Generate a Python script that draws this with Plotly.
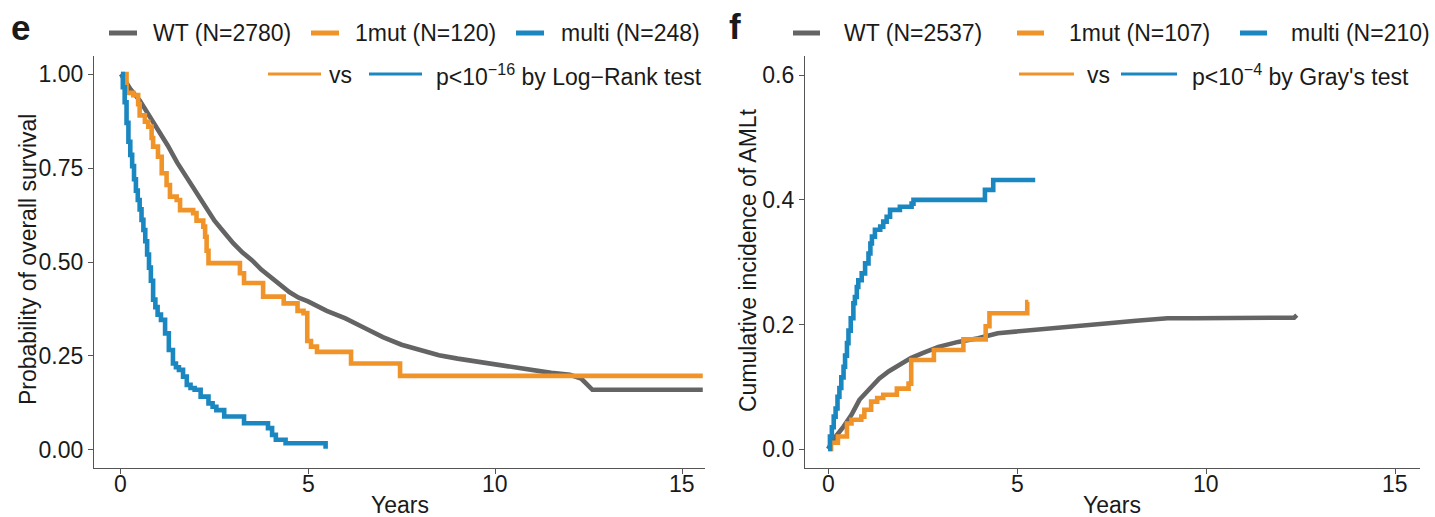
import plotly.graph_objects as go

W, H = 1435, 517

# ---------------- data ----------------
# Panel e: overall survival (Kaplan-Meier)
os_wt_years = [0, 0.1, 0.25, 0.5, 0.75, 1.0, 1.25, 1.5, 1.75, 2.0, 2.25, 2.5, 2.75, 3.0, 3.25,
               3.5, 3.75, 4.0, 4.25, 4.5, 4.75, 5.0, 5.5, 6.0, 6.5, 7.0, 7.5, 8.0, 8.5, 9.0,
               9.5, 10.0, 10.5, 11.0, 11.5, 12.0, 12.3, 12.45, 12.6, 15.55]
os_wt_surv = [1.0, 0.985, 0.96, 0.93, 0.89, 0.855, 0.81, 0.765, 0.725, 0.685, 0.645, 0.61, 0.58,
              0.55, 0.525, 0.505, 0.48, 0.46, 0.44, 0.42, 0.405, 0.395, 0.37, 0.35, 0.325, 0.30,
              0.28, 0.265, 0.252, 0.243, 0.235, 0.227, 0.22, 0.212, 0.205, 0.20, 0.19, 0.175,
              0.16, 0.16]

os_1mut_years = [0, 0.15, 0.33, 0.46, 0.5, 0.64, 0.73, 0.82, 0.86, 0.99, 1.09, 1.22, 1.31, 1.49,
                 1.58, 1.93, 2.02, 2.2, 2.25, 2.29, 2.34, 3.18, 3.29, 3.8, 4.35, 4.72, 4.88, 4.98,
                 5.08, 5.24, 6.15, 7.46, 15.55]
os_1mut_surv = [1.0, 0.95, 0.944, 0.92, 0.89, 0.873, 0.86, 0.83, 0.807, 0.78, 0.736, 0.705, 0.674,
                0.665, 0.638, 0.63, 0.61, 0.594, 0.567, 0.53, 0.497, 0.47, 0.444, 0.408, 0.39,
                0.37, 0.364, 0.29, 0.275, 0.261, 0.23, 0.197, 0.197]

os_multi_years = [0, 0.05, 0.1, 0.15, 0.2, 0.25, 0.3, 0.35, 0.4, 0.45, 0.5, 0.55, 0.6, 0.65, 0.7,
                  0.75, 0.8, 0.86, 0.92, 0.98, 1.07, 1.18, 1.28, 1.39, 1.47, 1.55, 1.66, 1.76,
                  1.86, 1.97, 2.13, 2.34, 2.45, 2.55, 2.76, 3.29, 3.93, 4.04, 4.14, 4.4, 5.45, 5.47]
os_multi_surv = [1.0, 0.965, 0.925, 0.87, 0.82, 0.785, 0.755, 0.72, 0.69, 0.665, 0.64, 0.612,
                 0.585, 0.555, 0.52, 0.485, 0.45, 0.40, 0.38, 0.36, 0.346, 0.31, 0.266, 0.23,
                 0.22, 0.213, 0.195, 0.173, 0.165, 0.16, 0.142, 0.124, 0.115, 0.106, 0.089,
                 0.071, 0.058, 0.04, 0.027, 0.018, 0.018, 0.003]

# Panel f: cumulative incidence of AMLt
ci_wt_years = [0, 0.1, 0.2, 0.41, 0.62, 0.83, 1.09, 1.35, 1.61, 1.87, 2.19, 2.5, 2.92, 3.44,
               3.97, 4.49, 5.01, 5.74, 6.58, 7.42, 8.15, 8.98, 9.7, 12.33, 12.4]
ci_wt_inc = [0, 0.012, 0.02, 0.036, 0.055, 0.079, 0.097, 0.113, 0.125, 0.135, 0.146, 0.154,
             0.164, 0.172, 0.178, 0.186, 0.189, 0.194, 0.197, 0.202, 0.206, 0.21, 0.21, 0.211,
             0.215]

ci_1mut_years = [0, 0.08, 0.26, 0.5, 0.62, 0.88, 0.96, 1.14, 1.3, 1.46, 1.82, 2.13, 2.2, 2.8,
                 3.58, 4.17, 4.27, 5.27, 5.3]
ci_1mut_inc = [0, 0.01, 0.02, 0.041, 0.047, 0.052, 0.063, 0.076, 0.082, 0.087, 0.097, 0.105,
               0.143, 0.159, 0.176, 0.197, 0.218, 0.236, 0.236]

ci_multi_years = [0, 0.05, 0.1, 0.15, 0.2, 0.25, 0.3, 0.35, 0.41, 0.45, 0.5, 0.54, 0.6, 0.67,
                  0.71, 0.76, 0.8, 0.89, 0.98, 1.07, 1.12, 1.16, 1.24, 1.38, 1.46, 1.55, 1.64,
                  1.9, 2.21, 2.26, 4.15, 4.37, 5.48]
ci_multi_inc = [0, 0.02, 0.035, 0.052, 0.065, 0.084, 0.098, 0.115, 0.132, 0.15, 0.17, 0.19,
                0.21, 0.234, 0.244, 0.26, 0.271, 0.282, 0.298, 0.314, 0.33, 0.341, 0.352, 0.357,
                0.365, 0.373, 0.384, 0.389, 0.394, 0.40, 0.416, 0.432, 0.432]

groups = ["WT", "1mut", "multi"]
n_os = [2780, 120, 248]
n_ci = [2537, 107, 210]
x_ticks = [0, 5, 10, 15]
x_tick_labels = ["0", "5", "10", "15"]
os_ticks = [0, 0.25, 0.5, 0.75, 1.0]
ci_ticks = [0, 0.2, 0.4, 0.6]

# ---------------- style ----------------
GRAY, ORANGE, BLUE = "#646464", "#F0942A", "#1B87C0"
colors = [GRAY, ORANGE, BLUE]
FONT = "Liberation Sans, Arial, Helvetica, sans-serif"
TXT = "#1a1a1a"
AX = "#555555"
FS = 23
LW = 4.6

fig = go.Figure()

os_data = [(os_wt_years, os_wt_surv, "linear"), (os_1mut_years, os_1mut_surv, "hv"),
           (os_multi_years, os_multi_surv, "hv")]
ci_data = [(ci_wt_years, ci_wt_inc, "linear"), (ci_1mut_years, ci_1mut_inc, "hv"),
           (ci_multi_years, ci_multi_inc, "hv")]

for (xs, ys, shp), g, n, c in zip(os_data, groups, n_os, colors):
    fig.add_trace(go.Scatter(x=xs, y=ys, mode="lines", line=dict(color=c, width=LW, shape=shp),
                             name=f"{g} (N={n})", showlegend=False, xaxis="x", yaxis="y"))
for (xs, ys, shp), g, n, c in zip(ci_data, groups, n_ci, colors):
    fig.add_trace(go.Scatter(x=xs, y=ys, mode="lines", line=dict(color=c, width=LW, shape=shp),
                             name=f"{g} (N={n})", showlegend=False, xaxis="x2", yaxis="y2"))

def px_x(p):
    return p / W

def px_y(p):
    return 1 - p / H

ydom = [px_y(468), px_y(56)]
axis_common = dict(showline=True, linecolor=AX, linewidth=1.3, ticks="outside", ticklen=5,
                   tickcolor=AX, tickwidth=1.3, showgrid=False, zeroline=False,
                   tickfont=dict(family=FONT, size=FS, color=TXT), fixedrange=True)

fig.update_layout(
    width=W, height=H, margin=dict(l=0, r=0, t=0, b=0),
    paper_bgcolor="white", plot_bgcolor="white",
    font=dict(family=FONT, size=FS, color=TXT),
    xaxis=dict(domain=[px_x(94), px_x(705)], range=[-0.72, 15.61], tickvals=x_ticks,
               anchor="y", showticklabels=False, **axis_common),
    yaxis=dict(domain=ydom, range=[-0.048, 1.048], tickvals=os_ticks, tickformat=".2f",
               anchor="x", **axis_common),
    xaxis2=dict(domain=[px_x(805), px_x(1420)], range=[-0.61, 15.66], tickvals=x_ticks,
                anchor="y2", showticklabels=False, **axis_common),
    yaxis2=dict(domain=ydom, range=[-0.0305, 0.631], tickvals=ci_ticks, tickformat=".1f",
                anchor="x2", **axis_common),
)

ann = []
shapes = []

def text(x, y, s, size=FS, xanchor="left", weight="normal", angle=0):
    ann.append(dict(x=px_x(x), y=px_y(y), xref="paper", yref="paper", text=s, showarrow=False,
                    xanchor=xanchor, yanchor="middle", textangle=angle,
                    font=dict(family=FONT, size=size, color=TXT, weight=weight)))

def seg(x0, x1, y, color, width):
    shapes.append(dict(type="line", xref="paper", yref="paper", x0=px_x(x0), x1=px_x(x1),
                       y0=px_y(y), y1=px_y(y), line=dict(color=color, width=width)))

# x tick labels, positioned through each panel's x scale
for xref in ["x", "x2"]:
    for v, lab in zip(x_ticks, x_tick_labels):
        ann.append(dict(x=v, y=px_y(484), xref=xref, yref="paper", text=lab, showarrow=False,
                        xanchor="center", yanchor="middle",
                        font=dict(family=FONT, size=FS, color=TXT)))

# panel letters
text(20, 28, "e", size=35, xanchor="center", weight="bold")
text(735, 27, "f", size=35, xanchor="center", weight="bold")

# top legends
for (l0, l1, tx), g, n, c in zip([(109, 137, 151), (311, 339, 353), (516, 544, 559)], groups, n_os, colors):
    seg(l0, l1, 33, c, 5)
    text(tx, 33, f"{g} (N={n})")
for (l0, l1, tx), g, n, c in zip([(793, 820, 842), (1017, 1044, 1067), (1240, 1267, 1289)], groups, n_ci, colors):
    seg(l0, l1, 33, c, 5)
    text(tx, 33, f"{g} (N={n})")

# test legends
seg(268, 321, 74, ORANGE, 3)
text(327, 75, "vs")
seg(369, 422, 74, BLUE, 3)
text(434, 75, "p<10<sup>−16</sup> by Log−Rank test")

seg(1019, 1074, 74, ORANGE, 3)
text(1085, 75, "vs")
seg(1121, 1177, 74, BLUE, 3)
text(1190, 75, "p<10<sup>−4</sup> by Gray's test")

# axis titles
text(28, 260, "Probability of overall survival", xanchor="center", angle=-90)
text(748, 260, "Cumulative incidence of AMLt", xanchor="center", angle=-90)
text(400, 505, "Years", xanchor="center")
text(1112, 505, "Years", xanchor="center")

fig.update_layout(annotations=ann, shapes=shapes)
fig.write_html("out.html")
